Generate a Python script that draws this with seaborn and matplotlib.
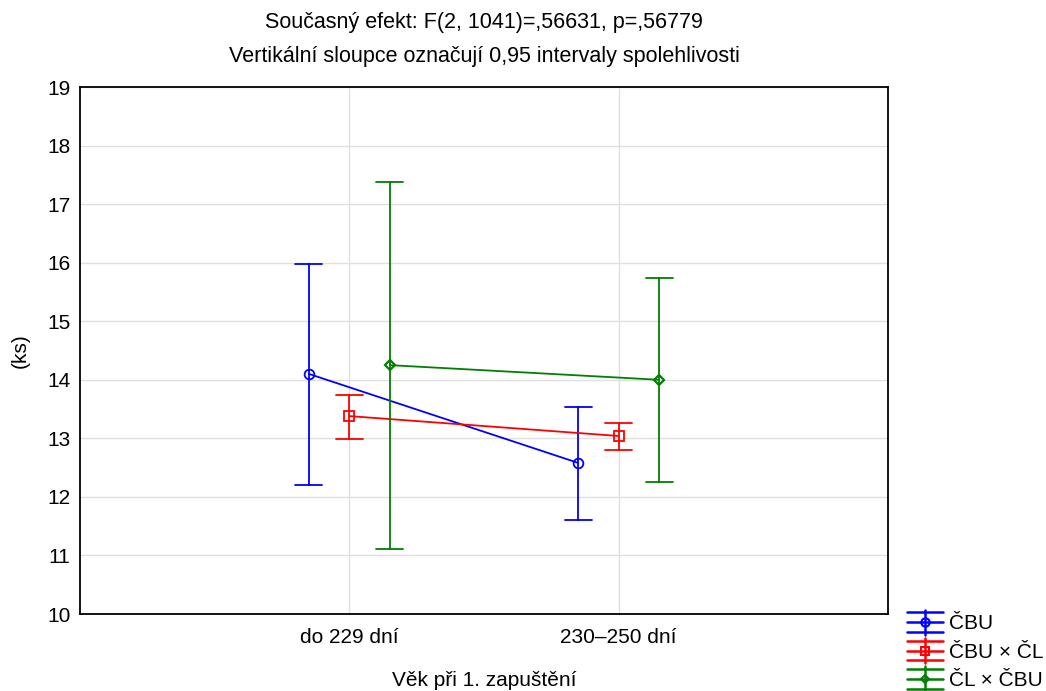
import matplotlib
matplotlib.use("Agg")
import matplotlib.pyplot as plt
import seaborn as sns
import pandas as pd
from matplotlib.legend_handler import HandlerBase
from matplotlib.lines import Line2D

categories = ["do 229 dní", "230–250 dní"]
groups = ["ČBU", "ČBU × ČL", "ČL × ČBU"]
means = {"ČBU": [14.10, 12.58], "ČBU × ČL": [13.38, 13.04], "ČL × ČBU": [14.25, 14.00]}
lower = {"ČBU": [12.20, 11.61], "ČBU × ČL": [12.99, 12.80], "ČL × ČBU": [11.11, 12.25]}
upper = {"ČBU": [15.98, 13.54], "ČBU × ČL": [13.74, 13.26], "ČL × ČBU": [17.38, 15.74]}
colors = ["#0000ff", "#ff0000", "#008000"]
markers = ["o", "s", "D"]

rows = []
for g in groups:
    for i, c in enumerate(categories):
        for v in (lower[g][i], means[g][i], upper[g][i]):
            rows.append({"cat": c, "grp": g, "val": v})
df = pd.DataFrame(rows)

sns.set_theme(style="white")
plt.rcParams["font.family"] = ["Liberation Sans", "DejaVu Sans"]
plt.rcParams["text.color"] = "black"
plt.rcParams["axes.labelcolor"] = "black"

fig = plt.figure(figsize=(10.46, 6.91), dpi=100)
ax = fig.add_axes([80 / 1046, 1 - 614 / 691, 808 / 1046, 527 / 691])

sns.pointplot(data=df, x="cat", y="val", hue="grp", order=categories, hue_order=groups,
              estimator="median", errorbar=lambda v: (v.min(), v.max()),
              dodge=0.3, palette=colors, markers=markers, capsize=0.1,
              linewidth=1.3, err_kws={"linewidth": 1.3}, markersize=7,
              markerfacecolor="none", markeredgewidth=1.3, ax=ax, legend=False)
for ln in ax.lines:
    if ln.get_marker() == "D":
        ln.set_markersize(5)
        ln.set_markeredgewidth(1.6)

ax.set_xlim(-1, 2)
ax.set_ylim(10, 19)
ax.set_yticks(range(10, 20))
ax.grid(True, color="#e0e0e0", linewidth=1)
ax.set_axisbelow(True)
for s in ax.spines.values():
    s.set_visible(True)
    s.set_color("black")
    s.set_linewidth(1.3)
ax.tick_params(axis="both", direction="in", length=3, width=1, labelsize=15,
               colors="black", labelcolor="black")
ax.tick_params(axis="x", pad=10)
ax.tick_params(axis="y", pad=7)
ax.set_xlabel("Věk při 1. zapuštění", fontsize=15, labelpad=17)
ax.set_ylabel("(ks)", fontsize=15, labelpad=12)
ax.set_title("Současný efekt: F(2, 1041)=,56631, p=,56779\nVertikální sloupce označují 0,95 intervaly spolehlivosti",
             fontsize=15.5, pad=18, linespacing=1.8)


class ErrHandle:
    def __init__(self, color, marker):
        self.color = color
        self.marker = marker


class ErrHandler(HandlerBase):
    def create_artists(self, legend, orig, xd, yd, width, height, fontsize, trans):
        c = orig.color
        cy = height / 2 - yd
        x0, x1 = -xd, width - xd
        cx = (x0 + x1) / 2
        dy = 7.0
        arts = []
        for y in (cy - dy, cy, cy + dy):
            arts.append(Line2D([x0, x1], [y, y], color=c, lw=1.8))
        arts.append(Line2D([cx, cx], [cy - dy - 2, cy + dy + 2], color=c, lw=1.8))
        ms = 6 if orig.marker != "D" else 4.5
        arts.append(Line2D([cx], [cy], color=c, marker=orig.marker, markersize=ms,
                           markerfacecolor="none", markeredgewidth=1.5, lw=0))
        for a in arts:
            a.set_transform(trans)
        return arts


handles = [ErrHandle(c, m) for c, m in zip(colors, markers)]
fig.legend(handles, groups, loc="lower right", bbox_to_anchor=(1.016, -0.026), frameon=False,
           fontsize=15, handlelength=1.75, handletextpad=0.3, labelspacing=0.45,
           handler_map={ErrHandle: ErrHandler()})

fig.savefig("out.png", dpi=100)
